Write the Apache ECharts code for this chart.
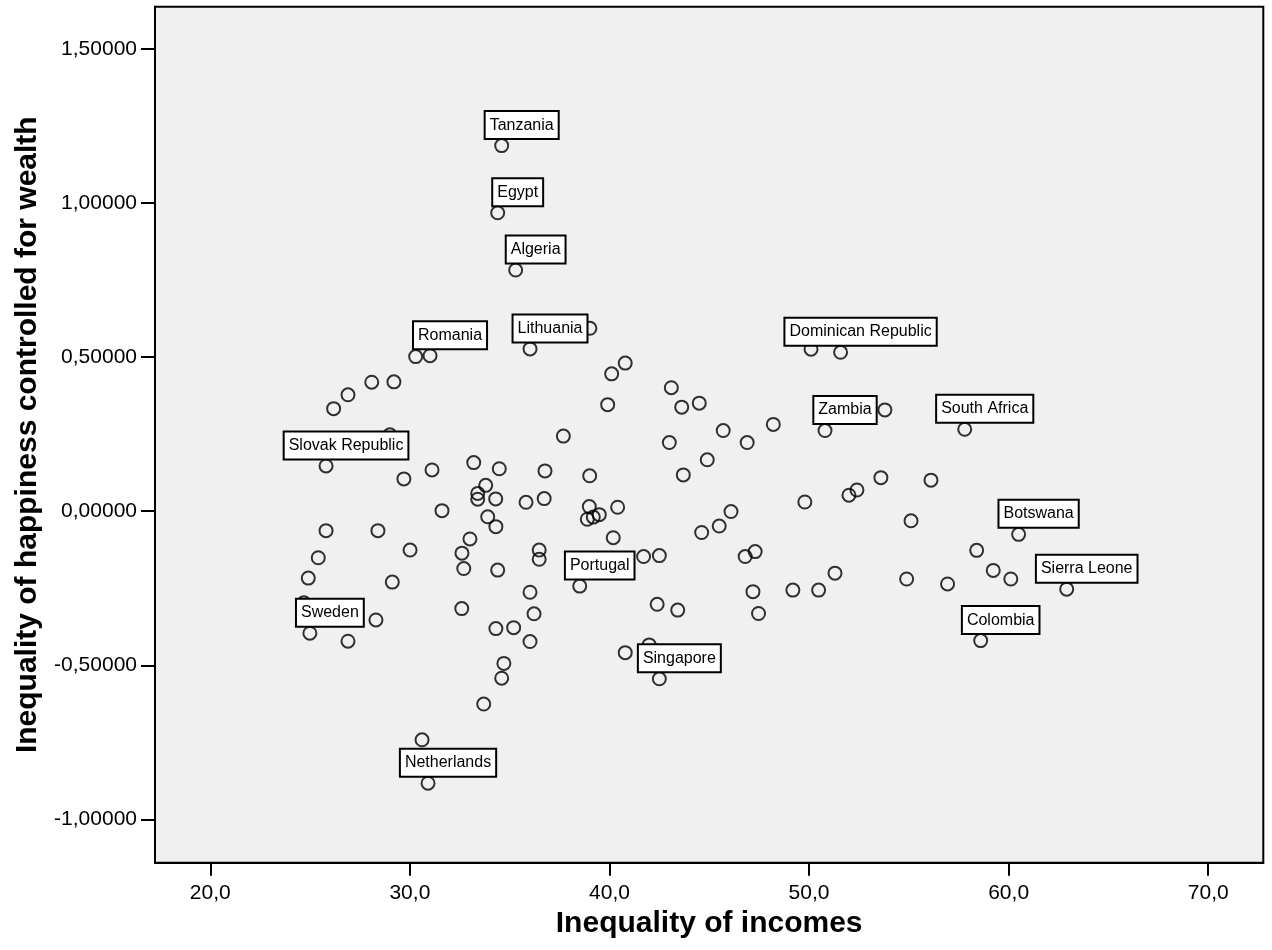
<!DOCTYPE html>
<html>
<head>
<meta charset="utf-8">
<style>
  html, body { margin: 0; padding: 0; background: #ffffff; }
  #chart { width: 1272px; height: 950px; }
</style>
<script src="https://cdn.jsdelivr.net/npm/echarts@6/dist/echarts.min.js"></script>
</head>
<body>
<div id="chart"></div>
<script>
// Inequality of incomes (x)
const incomeInequality = [
  26.18, 26.90, 28.09, 29.20, 30.29, 31.01, 36.02, 39.02, 29.00, 25.80,
  29.70, 31.11, 33.20, 34.48, 36.77, 33.80, 33.40, 33.40, 34.30, 35.82,
  36.73, 31.61, 33.90, 34.31, 25.80, 28.40, 33.01, 30.01, 32.61, 36.48,
  36.48, 25.41, 32.70, 34.40, 24.91, 29.12, 36.02, 24.69, 24.99, 28.30,
  26.90, 32.60, 36.22, 34.31, 35.20, 36.02, 34.71, 34.60, 33.70, 30.61,
  30.91, 37.69, 39.01, 38.99, 38.89, 39.19, 39.49, 40.41, 40.19, 38.51,
  41.71, 42.50, 42.39, 43.42, 40.79, 41.99, 42.50, 40.11, 40.79, 39.91,
  43.10, 43.62, 44.50, 43.00, 45.70, 46.90, 48.21, 44.90, 43.70, 46.09,
  45.50, 44.62, 46.80, 47.30, 47.19, 49.19, 50.48, 47.47, 49.79, 52.00,
  52.40, 50.10, 51.58, 50.80, 53.80, 51.30, 53.60, 56.11, 55.11, 54.89,
  56.94, 57.80, 58.40, 59.23, 60.11, 60.50, 62.91, 58.60, 34.60, 34.40,
  35.30
];
// Inequality of happiness controlled for wealth (y)
const happinessInequality = [
  0.333, 0.378, 0.419, 0.420, 0.502, 0.505, 0.527, 0.594, 0.248, 0.147,
  0.105, 0.134, 0.158, 0.138, 0.131, 0.084, 0.058, 0.039, 0.040, 0.029,
  0.041, 0.002, -0.018, -0.050, -0.063, -0.063, -0.090, -0.126, -0.136, -0.126,
  -0.156, -0.151, -0.186, -0.191, -0.217, -0.230, -0.263, -0.297, -0.396, -0.353,
  -0.422, -0.316, -0.333, -0.381, -0.378, -0.423, -0.494, -0.542, -0.626, -0.742,
  -0.883, 0.244, 0.115, 0.015, -0.026, -0.019, -0.011, 0.013, -0.086, -0.243,
  -0.147, -0.144, -0.302, -0.321, -0.459, -0.434, -0.544, 0.446, 0.481, 0.346,
  0.401, 0.338, 0.351, 0.223, 0.262, 0.223, 0.282, 0.167, 0.118, -0.001,
  -0.048, -0.069, -0.147, -0.131, -0.261, -0.256, -0.256, -0.332, 0.030, 0.052,
  0.069, 0.526, 0.516, 0.262, 0.329, -0.201, 0.109, 0.101, -0.031, -0.220,
  -0.236, 0.266, -0.127, -0.192, -0.220, -0.075, -0.253, -0.420, 1.187, 0.969,
  0.783
];
// Country labels ('' = unlabeled point)
const countryLabels = [
  '', '', '', '', '', 'Romania', 'Lithuania', '', '', 'Slovak Republic',
  '', '', '', '', '', '', '', '', '', '',
  '', '', '', '', '', '', '', '', '', '',
  '', '', '', '', '', '', '', '', 'Sweden', '',
  '', '', '', '', '', '', '', '', '', '',
  'Netherlands', '', '', '', '', '', '', '', '', 'Portugal',
  '', '', '', '', '', '', 'Singapore', '', '', '',
  '', '', '', '', '', '', '', '', '', '',
  '', '', '', '', '', '', '', '', '', '',
  '', '', 'Dominican Republic', 'Zambia', '', '', '', '', '', '',
  '', 'South Africa', '', '', '', 'Botswana', 'Sierra Leone', 'Colombia', 'Tanzania', 'Egypt',
  'Algeria'
];
// Tick values
const xTicks = [20, 30, 40, 50, 60, 70];
const yTicks = [-1.0, -0.5, 0.0, 0.5, 1.0, 1.5];

const FONT = "'Liberation Sans', Arial, Helvetica, sans-serif";

const points = incomeInequality.map((x, i) => {
  const d = { value: [x, happinessInequality[i]], name: countryLabels[i] };
  if (countryLabels[i]) d.label = { show: true };
  return d;
});

const chart = echarts.init(document.getElementById('chart'), null, { renderer: 'canvas' });
chart.setOption({
  animation: false,
  backgroundColor: '#ffffff',
  grid: {
    left: 155, right: 8.7, top: 6.7, bottom: 87.3,
    show: true, backgroundColor: '#f0f0f0', borderColor: '#000000', borderWidth: 2,
    containLabel: false
  },
  xAxis: {
    type: 'value',
    min: 17.23, max: 72.76,
    name: 'Inequality of incomes',
    nameLocation: 'middle',
    nameGap: 46,
    nameTextStyle: { fontFamily: FONT, fontSize: 30, fontWeight: 'bold', color: '#000' },
    axisLine: { show: true, onZero: false, lineStyle: { color: '#000', width: 2 } },
    axisTick: { show: true, length: 13, inside: false, customValues: xTicks, lineStyle: { color: '#000', width: 2 } },
    axisLabel: {
      customValues: xTicks, margin: 20,
      fontFamily: FONT, fontSize: 21, color: '#000',
      formatter: v => v.toFixed(1).replace('.', ',')
    },
    splitLine: { show: false }
  },
  yAxis: {
    type: 'value',
    min: -1.141, max: 1.638,
    name: 'Inequality of happiness controlled for wealth',
    nameLocation: 'middle',
    nameGap: 112,
    nameTextStyle: { fontFamily: FONT, fontSize: 30, fontWeight: 'bold', color: '#000' },
    axisLine: { show: true, onZero: false, lineStyle: { color: '#000', width: 2 } },
    axisTick: { show: true, length: 14, inside: false, customValues: yTicks, lineStyle: { color: '#000', width: 2 } },
    axisLabel: {
      customValues: yTicks, margin: 18,
      fontFamily: FONT, fontSize: 21, color: '#000',
      formatter: v => v.toFixed(5).replace('.', ',')
    },
    splitLine: { show: false }
  },
  series: [{
    type: 'scatter',
    data: points,
    symbol: 'circle',
    symbolSize: 13,
    itemStyle: { color: 'rgba(0,0,0,0)', borderColor: '#000', borderWidth: 2 },
    emphasis: { disabled: true },
    label: {
      show: false,
      formatter: '{b}',
      position: [27.5, -13],
      align: 'center',
      verticalAlign: 'middle',
      fontFamily: FONT,
      fontSize: 16,
      color: '#000000',
      opacity: 1,
      textBorderWidth: 0,
      backgroundColor: '#ffffff',
      borderColor: '#000000',
      borderWidth: 2,
      padding: [5, 4, 4, 4],
      lineHeight: 17
    },
    labelLayout: { hideOverlap: false }
  }]
});
</script>
</body>
</html>
